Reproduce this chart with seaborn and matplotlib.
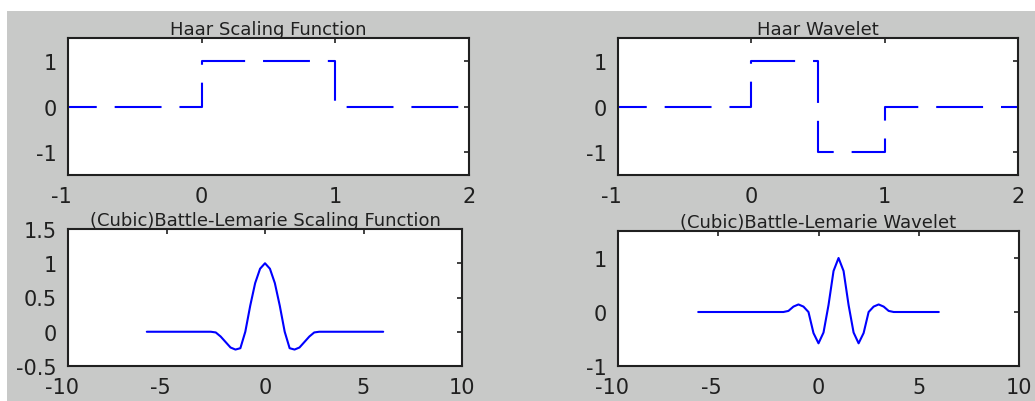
import matplotlib
matplotlib.use("Agg")
import matplotlib.pyplot as plt
import matplotlib.transforms as mtransforms
import seaborn as sns
import pandas as pd
from matplotlib.patches import Rectangle

# ---------------- data ----------------
haar_scaling_x = [-1, 0, 0, 1, 1, 2]
haar_scaling_y = [0, 0, 1, 1, 0, 0]

haar_wavelet_x = [-1, 0, 0, 0.5, 0.5, 1, 1, 2]
haar_wavelet_y = [0, 0, 1, 1, -1, -1, 0, 0]

bl_scaling_x = [-6, -2.75, -2.5, -2.25, -2.0, -1.75, -1.5, -1.25, -1.0, -0.75, -0.5, -0.25,
                0.0, 0.25, 0.5, 0.75, 1.0, 1.25, 1.5, 1.75, 2.0, 2.25, 2.5, 2.75, 6]
bl_scaling_y = [0, 0, -0.01, -0.07, -0.15, -0.23, -0.26, -0.24, 0.0, 0.38, 0.71, 0.92,
                1.0, 0.92, 0.71, 0.38, 0.0, -0.24, -0.26, -0.23, -0.15, -0.07, -0.01, 0, 0]

bl_wavelet_x = [-6, -1.75, -1.5, -1.25, -1.0, -0.75, -0.5, -0.25, 0.0, 0.25, 0.5, 0.75,
                1.0, 1.25, 1.5, 1.75, 2.0, 2.25, 2.5, 2.75, 3.0, 3.25, 3.5, 3.75, 6]
bl_wavelet_y = [0, 0, 0.02, 0.10, 0.14, 0.10, 0.0, -0.39, -0.58, -0.38, 0.13, 0.76,
                1.0, 0.76, 0.13, -0.38, -0.58, -0.39, 0.0, 0.10, 0.14, 0.10, 0.02, 0, 0]

titles = ["Haar Scaling Function", "Haar Wavelet",
          "(Cubic)Battle-Lemarie Scaling Function", "(Cubic)Battle-Lemarie Wavelet"]

haar_xticks = [-1, 0, 1, 2]
haar_yticks = [-1, 0, 1]
bl_xticks = [-10, -5, 0, 5, 10]
bl_scaling_yticks = [-0.5, 0, 0.5, 1, 1.5]
bl_wavelet_yticks = [-1, 0, 1]

# ---------------- style ----------------
sns.set_style("white")
plt.rcParams["font.family"] = ["DejaVu Sans"]

W, H = 1035, 402
fig = plt.figure(figsize=(W / 100, H / 100), dpi=100, facecolor="white")
bg = Rectangle((7 / W, 0), 1 - 7 / W, (H - 12) / H,
               transform=fig.transFigure, facecolor="#c8c9c8",
               edgecolor="none", zorder=-10)
fig.add_artist(bg)

def box(x0, y0, x1, y1):
    return [x0 / W, (H - y1) / H, (x1 - x0) / W, (y1 - y0) / H]

ax_tl = fig.add_axes(box(68, 39, 469, 176))
ax_tr = fig.add_axes(box(618, 39, 1018, 176))
ax_bl = fig.add_axes(box(68, 230, 462, 367))
ax_br = fig.add_axes(box(618, 232, 1019, 367))

blue = "#0000ff"
dash = (8.7, (22.5, 8.6))

def draw(ax, xs, ys, ls):
    df = pd.DataFrame({"x": xs, "y": ys})
    sns.lineplot(data=df, x="x", y="y", ax=ax, sort=False, estimator=None,
                 color=blue, linewidth=1.5, linestyle=ls)

draw(ax_tl, haar_scaling_x, haar_scaling_y, dash)
draw(ax_tr, haar_wavelet_x, haar_wavelet_y, dash)
draw(ax_bl, bl_scaling_x, bl_scaling_y, "-")
draw(ax_br, bl_wavelet_x, bl_wavelet_y, "-")

settings = [
    (ax_tl, (-1, 2), (-1.5, 1.5), haar_xticks, haar_yticks, titles[0]),
    (ax_tr, (-1, 2), (-1.5, 1.5), haar_xticks, haar_yticks, titles[1]),
    (ax_bl, (-10, 10), (-0.5, 1.5), bl_xticks, bl_scaling_yticks, titles[2]),
    (ax_br, (-10, 10), (-1, 1.5), bl_xticks, bl_wavelet_yticks, titles[3]),
]

def fmt(v):
    return str(int(v)) if float(v).is_integer() else str(v)

shift = mtransforms.ScaledTranslation(-4.6 / 72, 0, fig.dpi_scale_trans)

for ax, xl, yl, xt, yt, t in settings:
    ax.set_facecolor("white")
    ax.set_xlim(*xl)
    ax.set_ylim(*yl)
    ax.set_xticks(xt)
    ax.set_xticklabels([fmt(v) for v in xt])
    ax.set_yticks(yt)
    ax.set_yticklabels([fmt(v) for v in yt])
    ax.set_xlabel("")
    ax.set_ylabel("")
    ax.tick_params(direction="in", top=True, right=True, length=3.5, width=1.2,
                   colors="#202020", labelsize=15, pad=8)
    for lab in ax.get_xticklabels():
        if lab.get_text().startswith("-"):
            lab.set_transform(lab.get_transform() + shift)
    for s in ax.spines.values():
        s.set_visible(True)
        s.set_linewidth(1.5)
        s.set_color("#202020")
    ax.set_title(t, fontsize=13, color="#202020", pad=3)

fig.savefig("out.png", dpi=100, facecolor="white")
